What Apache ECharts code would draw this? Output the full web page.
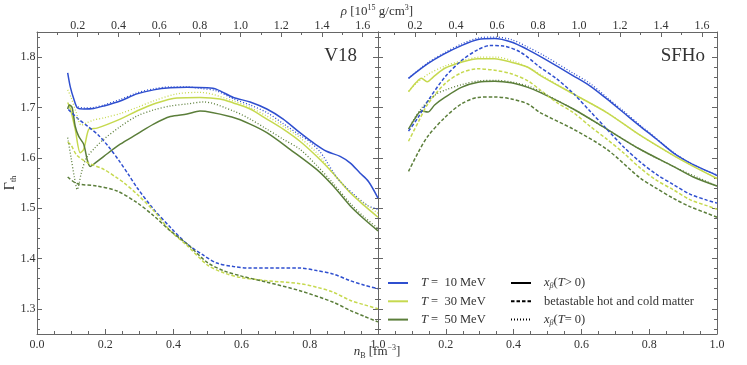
<!DOCTYPE html>
<html>
<head>
<meta charset="utf-8">
<script src="https://cdn.jsdelivr.net/npm/echarts@6/dist/echarts.min.js"></script>
<style>
html, body { margin: 0; padding: 0; background: #fff; }
#chart { width: 747px; height: 365px; }
</style>
</head>
<body>
<div id="chart"></div>
<script>
const FONT = 'Liberation Serif';
const BLUE = '#2f4fcf';
const LIME = '#c6d94f';
const OLIVE = '#5b7e3a';
const AXIS = '#666';

// ---- V18 (left panel): [n_B, Gamma_th]
const v18T10Solid = [[0.09,1.769],[0.098,1.74],[0.108,1.717],[0.119,1.699],[0.137,1.697],[0.166,1.698],[0.196,1.703],[0.244,1.713],[0.293,1.727],[0.342,1.735],[0.391,1.739],[0.44,1.740],[0.499,1.739],[0.527,1.736],[0.576,1.72],[0.625,1.711],[0.674,1.697],[0.722,1.677],[0.771,1.65],[0.81,1.63],[0.849,1.613],[0.889,1.603],[0.918,1.59],[0.947,1.57],[0.972,1.553],[1.0,1.52]];
const v18T10Dotted = [[0.12,1.701],[0.137,1.699],[0.166,1.7],[0.196,1.705],[0.244,1.716],[0.293,1.729],[0.342,1.737],[0.391,1.741],[0.44,1.741],[0.478,1.738],[0.527,1.733],[0.576,1.717],[0.625,1.705],[0.674,1.69],[0.722,1.668],[0.771,1.645],[0.8,1.632],[0.83,1.612],[0.85,1.592],[0.87,1.57],[0.89,1.552],[0.93,1.527],[0.97,1.505],[1.0,1.498]];
const v18T10Dashed = [[0.092,1.696],[0.12,1.678],[0.15,1.662],[0.18,1.645],[0.21,1.622],[0.24,1.595],[0.27,1.565],[0.293,1.541],[0.342,1.498],[0.391,1.462],[0.44,1.429],[0.489,1.406],[0.527,1.391],[0.576,1.384],[0.625,1.381],[0.72,1.381],[0.77,1.381],[0.82,1.376],[0.869,1.369],[0.918,1.356],[0.96,1.347],[1.0,1.34]];
const v18T30Solid = [[0.09,1.71],[0.098,1.697],[0.112,1.657],[0.127,1.61],[0.137,1.617],[0.152,1.657],[0.161,1.658],[0.176,1.659],[0.244,1.677],[0.293,1.693],[0.342,1.707],[0.41,1.719],[0.478,1.72],[0.537,1.717],[0.576,1.709],[0.625,1.697],[0.674,1.677],[0.722,1.657],[0.771,1.633],[0.82,1.603],[0.869,1.569],[0.918,1.531],[0.96,1.505],[1.0,1.482]];
const v18T30Dotted = [[0.09,1.735],[0.1,1.72],[0.115,1.69],[0.13,1.665],[0.147,1.67],[0.166,1.675],[0.2,1.68],[0.244,1.688],[0.293,1.7],[0.342,1.713],[0.41,1.727],[0.478,1.73],[0.576,1.713],[0.625,1.7],[0.674,1.683],[0.722,1.663],[0.771,1.64],[0.82,1.61],[0.879,1.56],[0.92,1.53],[0.96,1.51],[1.0,1.49]];
const v18T30Dashed = [[0.09,1.631],[0.1,1.625],[0.117,1.605],[0.15,1.59],[0.196,1.577],[0.235,1.56],[0.254,1.551],[0.293,1.528],[0.342,1.495],[0.391,1.455],[0.44,1.426],[0.5,1.387],[0.55,1.371],[0.6,1.362],[0.674,1.356],[0.771,1.35],[0.82,1.343],[0.869,1.333],[0.918,1.317],[0.96,1.308],[1.0,1.3]];
const v18T50Solid = [[0.09,1.697],[0.095,1.705],[0.103,1.7],[0.112,1.663],[0.122,1.643],[0.137,1.627],[0.147,1.597],[0.156,1.583],[0.171,1.59],[0.196,1.603],[0.244,1.627],[0.293,1.647],[0.342,1.667],[0.391,1.682],[0.44,1.687],[0.478,1.693],[0.576,1.68],[0.625,1.667],[0.674,1.65],[0.742,1.617],[0.82,1.577],[0.869,1.544],[0.918,1.505],[0.96,1.478],[1.0,1.455]];
const v18T50Dotted = [[0.09,1.64],[0.1,1.6],[0.11,1.56],[0.118,1.537],[0.13,1.57],[0.145,1.6],[0.17,1.62],[0.196,1.637],[0.244,1.662],[0.293,1.683],[0.342,1.695],[0.391,1.703],[0.44,1.707],[0.489,1.711],[0.576,1.693],[0.625,1.677],[0.674,1.657],[0.722,1.637],[0.771,1.617],[0.82,1.585],[0.869,1.549],[0.918,1.51],[0.96,1.482],[1.0,1.46]];
const v18T50Dashed = [[0.09,1.562],[0.117,1.549],[0.176,1.544],[0.235,1.534],[0.293,1.511],[0.342,1.485],[0.391,1.455],[0.44,1.429],[0.5,1.392],[0.55,1.375],[0.6,1.365],[0.674,1.353],[0.771,1.336],[0.869,1.313],[0.918,1.297],[0.96,1.285],[1.0,1.274]];

// ---- SFHo (right panel)
const sfhoT10Solid = [[0.09,1.758],[0.147,1.787],[0.197,1.807],[0.246,1.823],[0.295,1.835],[0.344,1.837],[0.393,1.83],[0.442,1.815],[0.49,1.797],[0.576,1.763],[0.625,1.743],[0.675,1.717],[0.724,1.69],[0.773,1.663],[0.822,1.637],[0.871,1.61],[0.92,1.59],[0.97,1.574],[1.0,1.565]];
const sfhoT10Dotted = [[0.09,1.758],[0.147,1.789],[0.197,1.809],[0.246,1.826],[0.295,1.838],[0.344,1.84],[0.393,1.835],[0.442,1.82],[0.49,1.803],[0.576,1.768],[0.625,1.748],[0.675,1.72],[0.724,1.693],[0.773,1.665],[0.822,1.638],[0.871,1.611],[0.92,1.59],[0.97,1.574],[1.0,1.566]];
const sfhoT10Dashed = [[0.09,1.653],[0.118,1.68],[0.147,1.713],[0.197,1.76],[0.246,1.793],[0.295,1.815],[0.33,1.823],[0.37,1.822],[0.42,1.81],[0.478,1.78],[0.527,1.757],[0.576,1.728],[0.625,1.693],[0.675,1.657],[0.724,1.622],[0.773,1.592],[0.822,1.567],[0.871,1.547],[0.92,1.528],[0.97,1.516],[1.0,1.51]];
const sfhoT30Solid = [[0.09,1.731],[0.113,1.75],[0.128,1.758],[0.146,1.751],[0.162,1.76],[0.197,1.778],[0.246,1.79],[0.295,1.797],[0.344,1.797],[0.393,1.79],[0.442,1.78],[0.478,1.764],[0.576,1.727],[0.675,1.69],[0.773,1.645],[0.871,1.605],[0.93,1.583],[1.0,1.559]];
const sfhoT30Dotted = [[0.09,1.733],[0.12,1.752],[0.15,1.767],[0.2,1.783],[0.25,1.793],[0.3,1.8],[0.35,1.8],[0.4,1.792],[0.45,1.777],[0.5,1.757],[0.576,1.727],[0.675,1.69],[0.773,1.645],[0.871,1.605],[1.0,1.559]];
const sfhoT30Dashed = [[0.09,1.633],[0.118,1.67],[0.147,1.707],[0.197,1.747],[0.246,1.769],[0.295,1.777],[0.344,1.774],[0.393,1.767],[0.442,1.753],[0.478,1.735],[0.527,1.71],[0.576,1.69],[0.625,1.663],[0.675,1.637],[0.724,1.61],[0.773,1.58],[0.82,1.556],[0.87,1.537],[0.92,1.517],[0.97,1.505],[1.0,1.498]];
const sfhoT50Solid = [[0.09,1.657],[0.108,1.677],[0.128,1.693],[0.147,1.691],[0.167,1.705],[0.197,1.72],[0.246,1.74],[0.295,1.75],[0.344,1.752],[0.393,1.749],[0.442,1.74],[0.478,1.73],[0.576,1.697],[0.675,1.657],[0.773,1.617],[0.871,1.583],[0.93,1.562],[1.0,1.544]];
const sfhoT50Dotted = [[0.1,1.67],[0.13,1.7],[0.173,1.727],[0.2,1.735],[0.25,1.746],[0.3,1.753],[0.35,1.754],[0.4,1.75],[0.45,1.741],[0.478,1.732],[0.576,1.697],[0.675,1.657],[0.773,1.617],[0.871,1.583],[1.0,1.544]];
const sfhoT50Dashed = [[0.09,1.573],[0.118,1.61],[0.147,1.643],[0.197,1.68],[0.246,1.707],[0.295,1.72],[0.344,1.721],[0.393,1.717],[0.442,1.707],[0.478,1.69],[0.576,1.657],[0.675,1.617],[0.773,1.56],[0.82,1.54],[0.87,1.52],[0.92,1.503],[0.97,1.49],[1.0,1.482]];

// tick values
const rhoTicks = [0.2, 0.4, 0.6, 0.8, 1.0, 1.2, 1.4, 1.6];
const rhoMinor = [0.1, 0.3, 0.5, 0.7, 0.9, 1.1, 1.3, 1.5];
const gammaTicks = [1.3, 1.4, 1.5, 1.6, 1.7, 1.8];
const gammaMinor = [1.26, 1.28, 1.32, 1.34, 1.36, 1.38, 1.42, 1.44, 1.46, 1.48, 1.52, 1.54, 1.56, 1.58, 1.62, 1.64, 1.66, 1.68, 1.72, 1.74, 1.76, 1.78, 1.82, 1.84];
const rhoRangeV18 = [0, 1.675];
const rhoRangeSFHo = [0.02, 1.673];

const labelStyle = { fontFamily: FONT, fontSize: 12, color: '#333' };
const lineAx = { show: true, onZero: false, lineStyle: { color: AXIS, width: 1 } };

function bottomAxis(grid, hideMin) {
    return {
        gridIndex: grid, type: 'value', position: 'bottom', min: 0, max: 1, interval: 0.2,
        axisLine: lineAx,
        axisTick: { inside: true, length: 5, lineStyle: { color: AXIS } },
        minorTick: { show: true, splitNumber: 4, length: 3, lineStyle: { color: AXIS } },
        axisLabel: { ...labelStyle, margin: 5, showMinLabel: !hideMin, formatter: (v) => v.toFixed(1) },
        splitLine: { show: false },
    };
}

function topAxes(grid, range) {
    return [
        {
            gridIndex: grid, type: 'value', position: 'top', min: range[0], max: range[1],
            axisLine: lineAx,
            axisTick: { inside: true, length: 5, customValues: rhoTicks, lineStyle: { color: AXIS } },
            axisLabel: { ...labelStyle, margin: 0, customValues: rhoTicks, formatter: (v) => v.toFixed(1) },
            splitLine: { show: false },
        },
        {
            gridIndex: grid, type: 'value', position: 'top', min: range[0], max: range[1],
            axisLine: { show: false, onZero: false },
            axisTick: { inside: true, length: 3, customValues: rhoMinor, lineStyle: { color: AXIS } },
            axisLabel: { show: false },
            splitLine: { show: false },
        },
    ];
}

function yAxes(grid, withLabels) {
    const axes = [];
    ['left', 'right'].forEach((pos) => {
        axes.push({
            gridIndex: grid, type: 'value', position: pos, min: 1.25, max: 1.85,
            axisLine: lineAx,
            axisTick: { inside: true, length: 5, customValues: gammaTicks, lineStyle: { color: AXIS } },
            axisLabel: {
                show: withLabels && pos === 'left', ...labelStyle, margin: 1.5,
                customValues: gammaTicks, formatter: (v) => v.toFixed(1),
            },
            splitLine: { show: false },
        });
        axes.push({
            gridIndex: grid, type: 'value', position: pos, min: 1.25, max: 1.85,
            axisLine: { show: false, onZero: false },
            axisTick: { inside: true, length: 3, customValues: gammaMinor, lineStyle: { color: AXIS } },
            axisLabel: { show: false },
            splitLine: { show: false },
        });
    });
    return axes;
}

const DASH = [3.5, 2];
const DOT = [1, 2];

function makeLine(name, data, xi, yi, color, type) {
    return {
        name, type: 'line', data, xAxisIndex: xi, yAxisIndex: yi,
        symbol: 'none', smooth: 0.3, silent: true,
        lineStyle: { color, width: type === DOT ? 1.3 : 1.5, type },
        itemStyle: { color },
    };
}

const panels = [
    { xi: 0, yi: 0, sets: [
        ['T10', BLUE, v18T10Solid, v18T10Dashed, v18T10Dotted],
        ['T30', LIME, v18T30Solid, v18T30Dashed, v18T30Dotted],
        ['T50', OLIVE, v18T50Solid, v18T50Dashed, v18T50Dotted],
    ] },
    { xi: 3, yi: 4, sets: [
        ['T10', BLUE, sfhoT10Solid, sfhoT10Dashed, sfhoT10Dotted],
        ['T30', LIME, sfhoT30Solid, sfhoT30Dashed, sfhoT30Dotted],
        ['T50', OLIVE, sfhoT50Solid, sfhoT50Dashed, sfhoT50Dotted],
    ] },
];

const series = [];
panels.forEach((p) => {
    p.sets.forEach(([name, color, solid]) => {
        series.push(makeLine(name, solid, p.xi, p.yi, color, 'solid'));
    });
});
panels.forEach((p) => {
    p.sets.forEach(([name, color, solid, dashed, dotted]) => {
        series.push(makeLine(name + 'd', dashed, p.xi, p.yi, color, DASH));
        series.push(makeLine(name + 'o', dotted, p.xi, p.yi, color, DOT));
    });
});
// legend-only entries for the line styles
series.push(makeLine('solid', [], 3, 4, '#000', 'solid'));
series.push(makeLine('dashed', [], 3, 4, '#000', DASH));
series.push(makeLine('dotted', [], 3, 4, '#000', DOT));

const legendRich = {
    i: { fontFamily: FONT, fontSize: 12.5, fontStyle: 'italic', color: '#333' },
    s: { fontFamily: FONT, fontSize: 8, fontStyle: 'italic', color: '#333', verticalAlign: 'bottom', lineHeight: 14 },
};
const tempLabels = { T10: '{i|T} =  10 MeV', T30: '{i|T} =  30 MeV', T50: '{i|T} =  50 MeV' };
const styleLabels = {
    solid: '{i|x}{s|β}({i|T}> 0)',
    dashed: 'betastable hot and cold matter',
    dotted: '{i|x}{s|β}({i|T}= 0)',
};

function legendBox(left, names, labels) {
    return {
        left, top: 276, orient: 'vertical', selectedMode: false, padding: 0,
        itemWidth: 20, itemHeight: 14, itemGap: 4.3,
        // hide the symbol that ECharts puts in the middle of a line icon
        itemStyle: { opacity: 0 },
        data: names,
        formatter: (n) => labels[n],
        textStyle: { fontFamily: FONT, fontSize: 12.5, color: '#333', lineHeight: 14, padding: [0, 0, 0, 8], rich: legendRich },
    };
}

const richTxt = {
    i: { fontFamily: FONT, fontSize: 13, fontStyle: 'italic', fill: '#333' },
    sup: { fontFamily: FONT, fontSize: 8, fill: '#333', verticalAlign: 'top', lineHeight: 16 },
    sub: { fontFamily: FONT, fontSize: 8, fill: '#333', verticalAlign: 'bottom', lineHeight: 16 },
};

function textEl(x, y, text, size, align, rotation) {
    return {
        type: 'text', x, y, rotation: rotation || 0, silent: true,
        style: {
            text, rich: richTxt, font: size + 'px "' + FONT + '"', fill: '#333',
            align, verticalAlign: 'middle', textAlign: align, textVerticalAlign: 'middle',
        },
    };
}

const chart = echarts.init(document.getElementById('chart'));
chart.setOption({
    animation: false,
    grid: [
        { left: 37, top: 32, width: 341, height: 302 },
        { left: 378, top: 32, width: 339, height: 302 },
    ],
    xAxis: [
        bottomAxis(0, false), ...topAxes(0, rhoRangeV18),
        bottomAxis(1, true), ...topAxes(1, rhoRangeSFHo),
    ],
    yAxis: [...yAxes(0, true), ...yAxes(1, false)],
    legend: [
        legendBox(387, ['T10', 'T30', 'T50'], tempLabels),
        legendBox(510, ['solid', 'dashed', 'dotted'], styleLabels),
    ],
    graphic: [
        textEl(377, 12, '{i|ρ} [10{sup|15} g/cm{sup|3}]', 13, 'center'),
        textEl(377, 352, '{i|n}{sub|B} [fm{sup|−3}]', 13, 'center'),
        textEl(10, 183, 'Γ{sub|th}', 14, 'center', Math.PI / 2),
        textEl(357, 56, 'V18', 19, 'right'),
        textEl(705, 56, 'SFHo', 19, 'right'),
    ],
    series,
});
</script>
</body>
</html>
